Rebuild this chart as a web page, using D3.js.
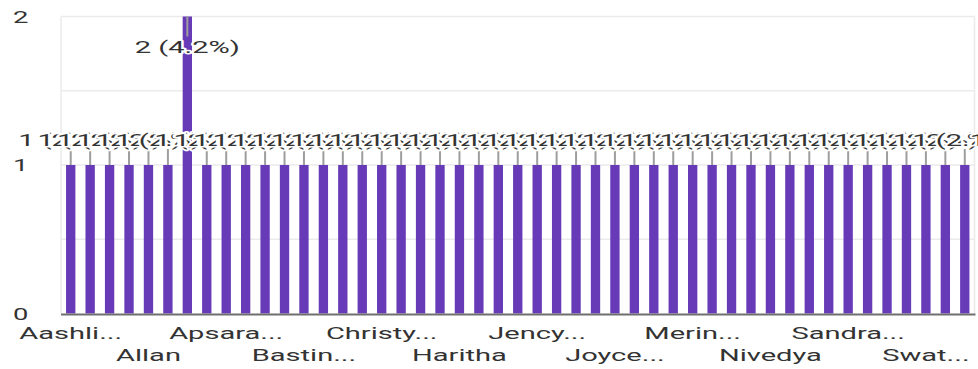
<!DOCTYPE html>
<html>
<head>
<meta charset="utf-8">
<script src="https://cdn.jsdelivr.net/npm/d3@7/dist/d3.min.js"></script>
<style>
  html, body { margin: 0; padding: 0; background: #ffffff; }
  svg { display: block; font-family: Roboto, "Noto Sans", sans-serif; }
</style>
</head>
<body>
<svg id="chart" width="978" height="369"></svg>
<script>
// ---- data ----
const categories = [
  "Aashli...", "Abhijith", "Abin", "Aiswarya", "Allan", "Alna", "Amal", "Anjali",
  "Apsara...", "Arjun", "Aswathy", "Athira", "Bastin...", "Bincy", "Blessy", "Chinnu",
  "Christy...", "Deepa", "Devika", "Gopika", "Haritha", "Hima", "Jaison", "Jasmin",
  "Jency...", "Jibin", "Jithin", "Josna", "Joyce...", "Liya", "Manu", "Meera",
  "Merin...", "Midhun", "Neethu", "Nikhil", "Nivedya", "Reshma", "Rinu", "Rohit",
  "Sandra...", "Sanju", "Sneha", "Sreya", "Swat...", "Teena", "Vishnu"
];
const values = [
  1, 1, 1, 1, 1, 1, 2, 1,
  1, 1, 1, 1, 1, 1, 1, 1,
  1, 1, 1, 1, 1, 1, 1, 1,
  1, 1, 1, 1, 1, 1, 1, 1,
  1, 1, 1, 1, 1, 1, 1, 1,
  1, 1, 1, 1, 1, 1, 1
];
const shownTicks = ["Aashli...", "Allan", "Apsara...", "Bastin...", "Christy...", "Haritha",
  "Jency...", "Joyce...", "Merin...", "Nivedya", "Sandra...", "Swat..."];
const yTickValues = [0, 1, 2];
const yGridValues = [0.5, 1, 1.5, 2];

// ---- layout ----
const SX = 1.71;          // horizontal stretch of the text in the reference
const FS = 17;
const pLeft = 61, pRight = 974.5, pTop = 16.5, pBottom = 313.5;
const svg = d3.select("#chart");

const total = d3.sum(values);
const data = categories.map((c, i) => ({ cat: c, v: values[i] }));

const x = d3.scaleBand().domain(categories).range([pLeft, pRight]).paddingInner(0.52).paddingOuter(0.26);
const y = d3.scaleLinear().domain([0, 2]).range([pBottom, pTop]);

// grid
svg.append("g").selectAll("line").data(yGridValues).join("line")
  .attr("x1", pLeft).attr("x2", pRight)
  .attr("y1", d => y(d)).attr("y2", d => y(d))
  .attr("stroke", "#ebebeb").attr("stroke-width", 1.5);
svg.append("g").selectAll("line").data([pLeft, pRight]).join("line")
  .attr("x1", d => d).attr("x2", d => d)
  .attr("y1", y(2)).attr("y2", y(0))
  .attr("stroke", "#ebebeb").attr("stroke-width", 1.5);

// y axis (labels only)
const yAxis = svg.append("g").attr("transform", `translate(${pLeft},0)`)
  .call(d3.axisLeft(y).tickValues(yTickValues).tickFormat(d3.format("d")).tickSize(0));
yAxis.select(".domain").remove();
yAxis.selectAll("text")
  .attr("x", 0).attr("dy", "0.36em")
  .attr("text-anchor", "start")
  .attr("transform", `translate(-48,0) scale(${SX},1)`)
  .attr("fill", "#333").attr("font-size", 16).attr("font-family", "Roboto");

// bars
svg.append("g").selectAll("rect").data(data).join("rect")
  .attr("x", d => x(d.cat)).attr("width", x.bandwidth())
  .attr("y", d => y(d.v)).attr("height", d => y(0) - y(d.v))
  .attr("fill", "#673ab7");

// x axis
const xAxis = svg.append("g").attr("transform", `translate(0,${pBottom})`)
  .call(d3.axisBottom(x).tickValues(shownTicks).tickSize(0));
xAxis.select(".domain").remove();
xAxis.selectAll(".tick text")
  .attr("y", (d, i) => i % 2 === 0 ? 25.5 : 47.5)
  .attr("dy", 0)
  .attr("transform", `scale(${SX},1)`)
  .attr("fill", "#333").attr("font-size", FS).attr("font-family", "Roboto");
svg.append("line")
  .attr("x1", pLeft).attr("x2", pRight + 1)
  .attr("y1", pBottom + 1).attr("y2", pBottom + 1)
  .attr("stroke", "#6f6f6f").attr("stroke-width", 2);

// value labels with leader lines (white halo text)
const fmtPct = d3.format(".1%");
const gap = 16;
const lab = svg.append("g");
const leaders = lab.append("g");
const texts = lab.append("g");
data.forEach(d => {
  const cx = x(d.cat) + x.bandwidth() / 2;
  const yt = y(d.v);
  let base, l1, l2;
  if (yt - gap - 20 < pTop) {          // no room above: place inside bar
    l1 = yt; l2 = yt + 20; base = yt + 36;
  } else {
    l1 = yt - gap; l2 = yt; base = yt - gap - 3;
  }
  leaders.append("line")
    .attr("x1", cx).attr("x2", cx).attr("y1", l1).attr("y2", l2)
    .attr("stroke", "#9e9e9e").attr("stroke-width", 2);
  texts.append("text")
    .attr("text-anchor", "middle")
    .attr("transform", `translate(${cx},${base}) scale(${SX},1)`)
    .attr("fill", "#333").attr("font-size", FS).attr("font-family", "Roboto")
    .attr("stroke", "#fff").attr("stroke-width", 3).attr("stroke-linejoin", "round")
    .attr("paint-order", "stroke")
    .text(`${d.v} (${fmtPct(d.v / total)})`);
});
</script>
</body>
</html>
